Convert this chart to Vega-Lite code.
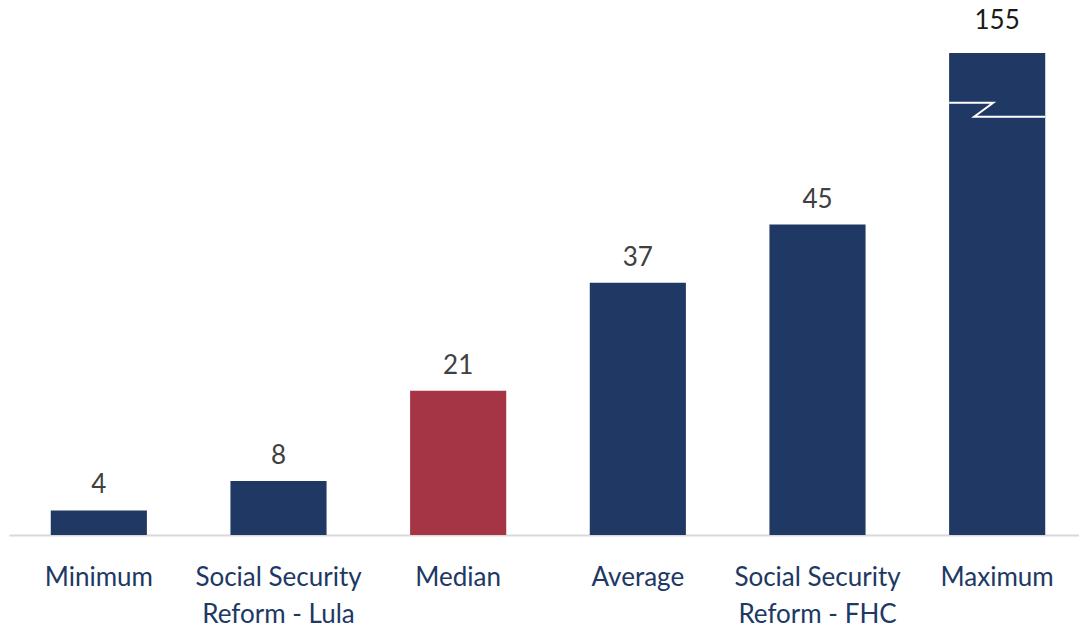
{
  "$schema": "https://vega.github.io/schema/vega-lite/v6.json",
  "autosize": "none",
  "width": 1078,
  "height": 482,
  "padding": {"left": 9, "top": 53, "right": 0, "bottom": 90},
  "background": "white",
  "config": {"view": {"stroke": null}, "font": "Lato"},
  "data": {"values": [
    {"category": "Minimum", "value": 3.6},
    {"category": "Social Security Reform - Lula", "value": 7.9},
    {"category": "Median", "value": 21.1},
    {"category": "Average", "value": 36.9},
    {"category": "Social Security Reform - FHC", "value": 45.4},
    {"category": "Maximum", "value": 155}
  ]},
  "encoding": {
    "x": {
      "field": "category", "type": "nominal", "sort": null,
      "scale": {"paddingInner": 0.465, "paddingOuter": 0.2325},
      "axis": {
        "title": null, "labelAngle": 0, "ticks": false,
        "domainColor": "#D9D9D9", "domainWidth": 2,
        "labelFont": "Lato", "labelFontSize": 26, "labelColor": "#203864",
        "labelLineHeight": 37, "labelPadding": 29,
        "labelExpr": "split(replace(datum.label, 'Security ', 'Security|'), '|')"
      }
    },
    "y": {
      "field": "value", "type": "quantitative",
      "scale": {"domain": [0, 70.5], "nice": false, "clamp": true, "zero": true},
      "axis": null
    }
  },
  "layer": [
    {
      "mark": {"type": "bar"},
      "encoding": {
        "color": {
          "condition": {"test": "datum.category === 'Median'", "value": "#A53444"},
          "value": "#203864"
        }
      }
    },
    {
      "transform": [{"filter": "datum.category !== 'Maximum'"}],
      "mark": {"type": "text", "baseline": "alphabetic", "dy": -17, "fontSize": 26, "font": "Lato", "color": "#404040"},
      "encoding": {"text": {"field": "value", "type": "quantitative", "format": ".0f"}}
    },
    {
      "transform": [{"filter": "datum.category === 'Maximum'"}],
      "mark": {"type": "text", "baseline": "alphabetic", "dy": -24, "fontSize": 26, "font": "Lato", "color": "#1a1a1a"},
      "encoding": {"text": {"field": "value", "type": "quantitative", "format": ".0f"}}
    },
    {
      "transform": [{"filter": "datum.category === 'Maximum'"}],
      "mark": {
        "type": "point", "filled": false, "stroke": "white", "strokeWidth": 2, "opacity": 1,
        "size": 9216,
        "shape": "M-1,-0.146L-0.083,-0.146L-0.48,0.146L1,0.146"
      },
      "encoding": {"y": {"datum": 62.2, "type": "quantitative"}}
    }
  ]
}
